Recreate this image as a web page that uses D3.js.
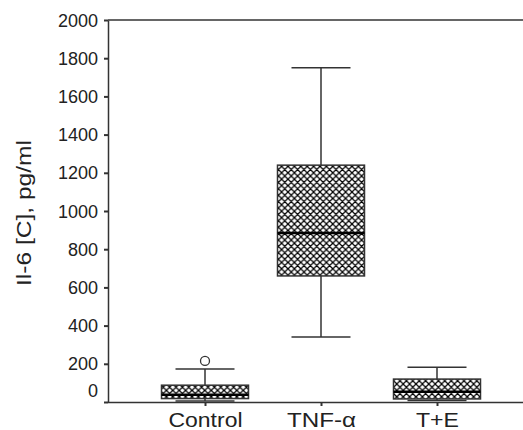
<!DOCTYPE html>
<html>
<head>
<meta charset="utf-8">
<script src="https://cdn.jsdelivr.net/npm/d3@7"></script>
<style>
  html, body { margin: 0; padding: 0; background: #fff; }
  svg { display: block; font-family: "Liberation Sans", Arial, sans-serif; }
</style>
</head>
<body>
<svg id="chart" width="523" height="430"></svg>
<script>
const categories = ["Control", "TNF-\u03b1", "T+E"];
const categoryLabelWidths = [74, 69, 43];
const whiskerLow = [5, 340, 8];
const q1 = [18, 660, 16];
const median = [38, 885, 54];
const q3 = [88, 1240, 120];
const whiskerHigh = [173, 1750, 182];
const outliers = [[215], [], []];
const yTicks = [0, 200, 400, 600, 800, 1000, 1200, 1400, 1600, 1800, 2000];
const yLabel = "Il-6 [C], pg/ml";

const svg = d3.select("#chart");
const axisColor = "#333";

const y = d3.scaleLinear().domain([0, 2000]).range([402, 20]);
const x = d3.scalePoint().domain(categories).range([205, 437]);
const boxW = 87, capW = 59;

// crosshatch pattern
const defs = svg.append("defs");
const pat = defs.append("pattern")
  .attr("id", "hatch").attr("patternUnits", "userSpaceOnUse")
  .attr("width", 6.4).attr("height", 6.4);
pat.append("rect").attr("width", 6.4).attr("height", 6.4).attr("fill", "#fff");
pat.append("path")
  .attr("d", "M-1,1 L1,-1 M0,6.4 L6.4,0 M5.4,7.4 L7.4,5.4 M-1,5.4 L1,7.4 M0,0 L6.4,6.4 M5.4,-1 L7.4,1")
  .attr("stroke", "#000").attr("stroke-width", 1.25);

// top frame line
svg.append("line")
  .attr("x1", 108).attr("x2", 523).attr("y1", y(2000)).attr("y2", y(2000))
  .attr("stroke", axisColor).attr("stroke-width", 1.5);

// y axis
const yAxis = svg.append("g").attr("transform", "translate(108,0)")
  .call(d3.axisLeft(y).tickValues(yTicks).tickFormat(d3.format("d"))
    .tickSize(4).tickPadding(6).tickSizeOuter(0));
yAxis.select(".domain").attr("stroke", axisColor).attr("stroke-width", 1.5);
yAxis.selectAll(".tick line").attr("stroke", axisColor).attr("stroke-width", 2);
yAxis.selectAll(".tick text")
  .attr("font-size", 18).attr("fill", "#222")
  .attr("font-family", "Liberation Sans, Arial, sans-serif")
  .attr("dy", d => d === 0 ? "-0.3em" : "0.34em");

// x axis
const xAxis = svg.append("g").attr("transform", `translate(0,${y(0)})`)
  .call(d3.axisBottom(x).tickSize(4).tickPadding(6).tickSizeOuter(0));
xAxis.select(".domain").attr("d", `M108,0.5H523`).attr("stroke", axisColor).attr("stroke-width", 1.5);
xAxis.selectAll(".tick line").attr("stroke", axisColor).attr("stroke-width", 2);
xAxis.selectAll(".tick text")
  .attr("font-size", 21).attr("fill", "#222")
  .attr("font-family", "Liberation Sans, Arial, sans-serif")
  .attr("textLength", (d, i) => categoryLabelWidths[i])
  .attr("lengthAdjust", "spacingAndGlyphs");

// y label
svg.append("text")
  .attr("transform", `translate(31,${213}) rotate(-90)`)
  .attr("text-anchor", "middle")
  .attr("font-size", 21).attr("fill", "#222")
  .attr("textLength", 146).attr("lengthAdjust", "spacingAndGlyphs")
  .text(yLabel);

// boxes
const g = svg.append("g");
categories.forEach((c, i) => {
  const cx = x(c);
  const lineC = "#333";
  g.append("line").attr("x1", cx).attr("x2", cx)
    .attr("y1", y(whiskerHigh[i])).attr("y2", y(q3[i]))
    .attr("stroke", lineC).attr("stroke-width", 1.5);
  g.append("line").attr("x1", cx).attr("x2", cx)
    .attr("y1", y(whiskerLow[i])).attr("y2", y(q1[i]))
    .attr("stroke", lineC).attr("stroke-width", 1.5);
  [whiskerHigh[i], whiskerLow[i]].forEach(v => {
    g.append("line").attr("x1", cx - capW / 2).attr("x2", cx + capW / 2)
      .attr("y1", y(v)).attr("y2", y(v))
      .attr("stroke", lineC).attr("stroke-width", 1.5);
  });
  g.append("rect")
    .attr("x", cx - boxW / 2).attr("width", boxW)
    .attr("y", y(q3[i])).attr("height", y(q1[i]) - y(q3[i]))
    .attr("fill", "url(#hatch)").attr("stroke", lineC).attr("stroke-width", 1.5);
  g.append("line").attr("x1", cx - boxW / 2).attr("x2", cx + boxW / 2)
    .attr("y1", y(median[i])).attr("y2", y(median[i]))
    .attr("stroke", "#000").attr("stroke-width", 2.5);
  outliers[i].forEach(v => {
    g.append("circle").attr("cx", cx).attr("cy", y(v)).attr("r", 4.5)
      .attr("fill", "#fff").attr("stroke", lineC).attr("stroke-width", 1.3);
  });
});
</script>
</body>
</html>
